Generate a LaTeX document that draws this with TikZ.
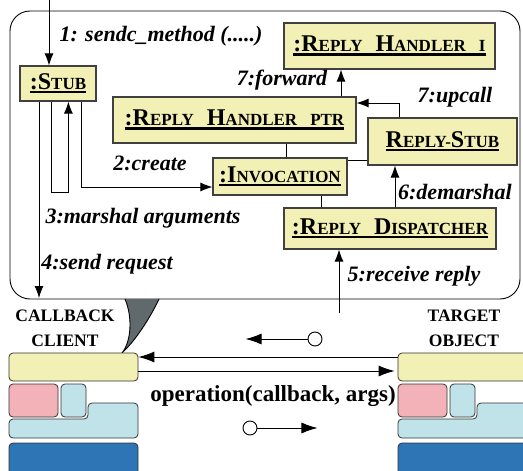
\documentclass[tikz,border=0pt]{standalone}
\usepackage{fontspec}
\setmainfont{Liberation Serif}
\usetikzlibrary{arrows.meta}
\definecolor{boxyellow}{RGB}{242,240,180}
\definecolor{blkpink}{RGB}{242,178,184}
\definecolor{blkcyan}{RGB}{191,227,232}
\definecolor{blkblue}{RGB}{46,117,182}
\definecolor{wedgegray}{RGB}{96,106,108}
\newcommand\fsc[2]{#1{\fontsize{17}{19}\selectfont #2}}
\newcommand\thul[1]{\vtop{\hbox{#1}\kern1pt\hrule height 2.5pt}}
\tikzset{
        obj/.style={draw=black!75, line width=1.2pt, fill=boxyellow, inner sep=0pt, font=\fontsize{24}{26}\selectfont\bfseries},
        lab/.style={font=\fontsize{22}{24}\selectfont\bfseries\itshape, inner sep=0pt},
        sidelabel/.style={font=\fontsize{17.5}{25}\selectfont\bfseries, align=center, inner sep=0pt},
        blk/.style={draw=black!80, line width=0.8pt, rounded corners=4pt},
        bigtip/.style={-{Latex[length=16pt,width=11pt]}},
}
\begin{document}
\begin{tikzpicture}[x=1pt,y=-1pt,>={Latex[length=12pt,width=9pt]},line width=0.9pt]
        \useasboundingbox (0,0) rectangle (523,471);
        \clip (0,0) rectangle (523,471);
        \draw[rounded corners=20pt] (10,11) rectangle (520,299);
        \node[obj, minimum width=76pt, minimum height=35pt] (stub) at (58,83.5) {\thul{:\fsc{S}{TUB}}};
        \node[obj, minimum width=243pt, minimum height=46pt] (ptr) at (234.5,120) {\thul{:\fsc{R}{EPLY}\hspace{13pt}\fsc{H}{ANDLER}\hspace{13pt}{\fontsize{17}{19}\selectfont PTR}}};
        \node[obj, minimum width=134pt, minimum height=37pt] (invoc) at (280,176.5) {\thul{:\fsc{I}{NVOCATION}}};
        \node[obj, minimum width=149pt, minimum height=47pt] (rstub) at (442.5,141.5) {\thul{\fsc{R}{EPLY-}\fsc{S}{TUB}}};
        \node[obj, minimum width=211pt, minimum height=46pt] (rhi) at (389.5,46) {\thul{:\fsc{R}{EPLY}\hspace{13pt}\fsc{H}{ANDLER}\hspace{13pt}{\fontsize{17}{19}\selectfont I}}};
        \node[obj, minimum width=212pt, minimum height=41pt] (disp) at (390,228.5) {\thul{:\fsc{R}{EPLY}\hspace{13pt}\fsc{D}{ISPATCHER}}};
        \coordinate (in1) at (49,0);
        \coordinate (cb) at (39,298);
        \coordinate (rr) at (339,313);
        \draw[->] (in1) -- (in1 |- stub.north);
        \draw[->] (cb |- stub.south) -- (cb);
        \draw[->] ([xshift=32]stub.south west) -- ++(0,91) -- ++(17,0) -- ([xshift=49]stub.south west);
        \draw[->] ([xshift=62]stub.south west) |- ([yshift=-10.5]invoc.west);
        \draw ([xshift=6]invoc.north) coordinate (pv) -- (pv |- ptr.south);
        \draw ([yshift=16.5]invoc.east) coordinate (iv) -- (iv -| rstub.west);
        \draw ([xshift=41]invoc.south) coordinate (ivs) -- (ivs |- disp.north);
        \draw[->] ([xshift=106.5]ptr.north) coordinate (fw) -- (fw |- rhi.south);
        \draw[->] ([xshift=-43.5]rstub.north) |- ([yshift=17]ptr.east);
        \draw[->] ([xshift=5]disp.north) coordinate (dm) -- (dm |- rstub.south);
        \draw[->] (rr) -- (rr |- disp.south);
        \node[lab] (l1) at (161,36) {1: sendc\_method (.....)};
        \node[lab] (l7f) at (282,80) {7:forward};
        \node[lab] (l7u) at (455,97) {7:upcall};
        \node[lab] (l2) at (150,163) {2:create};
        \node[lab] (l3) at (143,218) {3:marshal arguments};
        \node[lab] (l4) at (107,264) {4:send request};
        \node[lab] (l6) at (455,192) {6:demarshal};
        \node[lab] (l5) at (414,276) {5:receive reply};
        \draw[fill=wedgegray] (125,299) .. controls (133,318) and (131,342) .. (122,353) .. controls (136,340) and (150,318) .. (159,299);
        \node[sidelabel] (cl) at (65,328) {CALLBACK\\CLIENT};
        \node[sidelabel] (tg) at (464,328) {TARGET\\OBJECT};
        \node[blk, fill=boxyellow, minimum width=129pt, minimum height=28pt] (client) at (73.5,367) {};
        \node[blk, fill=boxyellow, minimum width=129pt, minimum height=28pt] (target) at (462.5,367) {};
        \foreach \dx in {0,389}{
        \begin{scope}[xshift=\dx]
                \draw[blk, fill=blkpink] (9,384) rectangle (58,417);
                \draw[blk, fill=blkcyan] (61,384) rectangle (86,417);
                \draw[blk, fill=blkcyan] (9,419) -- (88,419) -- (88,403) -- (138,403) -- (138,438) -- (9,438) -- cycle;
                \draw[blk, fill=blkblue] (9,443) rectangle (138,480);
        \end{scope}}
        \draw[bigtip] ([yshift=10]target.west) -- ([yshift=10]client.east);
        \draw[bigtip] ([yshift=-4]client.east) -- ([yshift=-4,xshift=-3]target.west);
        \node[lab, font=\fontsize{23}{25}\selectfont\bfseries] (op) at (273,396) {operation(callback, args)};
        \node[draw, circle, minimum size=14pt, inner sep=0pt] (ring1) at (315,339) {};
        \node[draw, circle, minimum size=14pt, inner sep=0pt] (ring2) at (250,428) {};
        \draw[bigtip] (ring1.west) -- ++(-62,0) coordinate (r1e);
        \draw[bigtip] (ring2.east) -- ++(60,0) coordinate (r2e);
\end{tikzpicture}
\end{document}
